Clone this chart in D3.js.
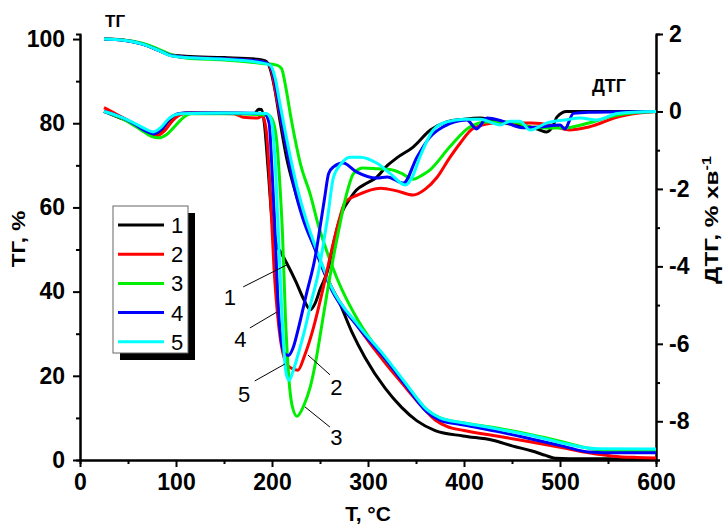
<!DOCTYPE html>
<html>
<head>
<meta charset="utf-8">
<script src="https://cdn.jsdelivr.net/npm/d3@7"></script>
<style>
  body { margin: 0; background: #fff; }
  svg text { font-family: Arial, "Liberation Sans", sans-serif; }
</style>
</head>
<body>
<div id="chart"></div>
<script>
// [T, °C ; ТГ, %]
const tg1 = [[25,100],[45,99.7],[65,98.8],[80,97.5],[95,96.2],[110,95.9],[150,95.6],[185,95.2],[193,94.8],[198,93],[203,88],[208,81],[215,72],[224,64],[233,57.5],[247,49],[262,41],[270,37.5],[283,30.5],[297,24.3],[318,17],[335,12.5],[351,9.3],[370,7],[399,5.7],[430,4.7],[451,3.3],[470,2.2],[485,1.1],[495,0.4],[510,0.3],[600,0.3]];
const tg2 = [[25,100],[45,99.8],[65,98.9],[80,97.5],[95,96.1],[110,95.7],[150,95.3],[185,94.8],[195,94.3],[200,92],[204,87],[210,80],[218,71],[226,64],[234,57.5],[247,49],[262,41],[290,31.5],[318,23],[340,17],[355,13],[370,9.5],[382,8],[400,7],[434,5.7],[470,4.3],[503,2.9],[530,1.7],[555,0.9],[580,0.6],[600,0.5]];
const tg3 = [[25,100],[45,99.8],[65,99],[80,97.8],[95,96.3],[110,95.5],[150,95],[190,94.2],[205,93.8],[210,93],[214,89],[220,81],[230,70],[240,63],[248,56],[258,49],[268,43],[290,33],[318,24],[340,17.8],[361,12],[375,10],[400,8.8],[434,7.6],[470,6],[503,4.3],[530,2.8],[550,2.3],[600,2.2]];
const tg4 = [[25,100],[45,99.7],[65,98.8],[80,97.5],[95,96.1],[110,95.7],[150,95.3],[185,94.8],[197,94],[202,91],[206,86],[210,80.5],[217,72],[224,64],[232,57.5],[245,50],[262,40.5],[290,31.5],[318,24],[340,17.5],[361,11.5],[375,9.5],[400,8.3],[434,6.8],[470,5],[503,3.3],[530,1.9],[560,1.7],[600,1.7]];
const tg5 = [[25,100],[45,99.7],[65,98.8],[80,97.5],[95,96],[110,95.6],[150,95.2],[185,94.5],[198,93.8],[203,91],[208,85],[213,79],[220,71],[227,64],[235,57.5],[248,49],[262,41],[290,32],[318,24.5],[340,18],[361,12],[375,10],[400,8.8],[434,7.4],[470,5.8],[503,4],[538,2.7],[600,2.6]];

// [T, °C ; ДТГ, % хв-1]
const dtg1 = [[25,0],[40,-0.15],[55,-0.3],[68,-0.5],[77,-0.58],[85,-0.48],[92,-0.25],[100,-0.1],[110,-0.04],[150,-0.04],[182,-0.05],[186,0.06],[189,0.05],[192,-0.3],[196,-1.5],[200,-2.8],[205,-3.45],[209,-3.63],[215,-3.9],[225,-4.4],[233,-4.85],[240,-5.12],[245,-4.95],[250,-4.6],[258,-4.1],[265,-3.3],[273,-2.6],[280,-2.3],[288,-2.03],[299,-1.85],[309,-1.7],[320,-1.4],[330,-1.2],[347,-0.92],[365,-0.48],[382,-0.27],[400,-0.2],[417,-0.17],[441,-0.3],[469,-0.4],[479,-0.48],[486,-0.53],[492,-0.4],[497,-0.14],[507,0],[600,0]];
const dtg2 = [[25,0.1],[40,-0.1],[55,-0.3],[70,-0.55],[80,-0.63],[88,-0.5],[96,-0.25],[105,-0.08],[115,-0.04],[160,-0.06],[170,-0.15],[185,-0.17],[190,-0.12],[194,-0.5],[198,-2],[202,-4],[206,-5.3],[211,-6.2],[218,-6.6],[227,-6.68],[234,-6.3],[243,-5.6],[252,-4.7],[262,-3.6],[270,-2.8],[276,-2.35],[290,-2.15],[313,-1.98],[330,-2.05],[347,-2.16],[360,-2],[372,-1.7],[385,-1.2],[396,-0.82],[410,-0.43],[434,-0.3],[470,-0.3],[490,-0.35],[510,-0.48],[530,-0.4],[562,-0.13],[590,-0.02],[600,0]];
const dtg3 = [[25,0],[45,-0.2],[62,-0.45],[75,-0.65],[82,-0.68],[90,-0.6],[100,-0.35],[108,-0.15],[116,-0.06],[160,-0.06],[196,-0.1],[201,-0.25],[205,-0.8],[208,-1.8],[211,-3.2],[214,-5.3],[217,-6.7],[221,-7.6],[226,-7.87],[233,-7.6],[240,-7.1],[246,-6.4],[252,-5.5],[258,-4.6],[264,-3.76],[270,-3],[277,-2.2],[285,-1.6],[295,-1.46],[310,-1.48],[323,-1.5],[335,-1.6],[347,-1.75],[356,-1.65],[365,-1.5],[385,-0.92],[406,-0.4],[424,-0.27],[451,-0.27],[469,-0.4],[503,-0.43],[530,-0.3],[555,-0.12],[580,-0.03],[600,0]];
const dtg4 = [[25,0],[40,-0.12],[55,-0.3],[68,-0.5],[77,-0.58],[85,-0.45],[93,-0.2],[102,-0.06],[110,-0.04],[150,-0.04],[192,-0.05],[197,-0.3],[200,-1.5],[203,-3],[206,-4.8],[209,-5.8],[213,-6.25],[217,-6.3],[222,-6.1],[227,-5.65],[236,-4.7],[245,-3.76],[250,-3],[255,-2.2],[259,-1.6],[264,-1.43],[274,-1.33],[288,-1.56],[309,-1.72],[320,-1.69],[337,-1.85],[351,-1.18],[365,-0.65],[378,-0.4],[403,-0.22],[413,-0.45],[424,-0.17],[440,-0.25],[461,-0.42],[480,-0.4],[500,-0.35],[505,-0.45],[514,-0.05],[530,-0.02],[600,0]];
const dtg5 = [[25,0],[40,-0.12],[55,-0.28],[68,-0.45],[76,-0.53],[84,-0.42],[92,-0.2],[104,-0.06],[150,-0.04],[194,-0.05],[199,-0.2],[203,-1.2],[206,-2.8],[209,-4.5],[212,-6],[215,-6.8],[218,-6.94],[222,-6.7],[228,-6.2],[234,-5.65],[241,-4.9],[248,-4.2],[253,-3.5],[258,-2.73],[264,-1.7],[272,-1.35],[281,-1.18],[292,-1.18],[309,-1.33],[323,-1.6],[339,-1.9],[346,-1.7],[354,-1.18],[368,-0.48],[382,-0.27],[400,-0.2],[417,-0.2],[438,-0.35],[448,-0.25],[458,-0.25],[469,-0.48],[486,-0.3],[505,-0.22],[521,-0.17],[538,-0.22],[560,-0.05],[600,0]];

const names = ["1", "2", "3", "4", "5"];
const colors = ["#000000", "#ff0000", "#00ee00", "#0000ff", "#00ffff"];
const tgSeries = [tg1, tg2, tg3, tg4, tg5];
const dtgSeries = [dtg1, dtg2, dtg3, dtg4, dtg5];

const xTicks = [0, 100, 200, 300, 400, 500, 600];
const xMinor = [50, 150, 250, 350, 450, 550];
const tgTicks = [0, 20, 40, 60, 80, 100];
const tgMinor = [10, 30, 50, 70, 90];
const dtgTicks = [-8, -6, -4, -2, 0, 2];
const dtgMinor = [-9, -7, -5, -3, -1, 1];

// curve labels: text position and leader line, in [T, ДТГ] units
const callouts = [
  {name: "1", at: [156, -5.0], from: [170, -4.53], to: [215.6, -3.96]},
  {name: "4", at: [167, -6.08], from: [177, -5.59], to: [205, -5.18]},
  {name: "5", at: [171, -7.5], from: [182, -6.96], to: [213.5, -6.52]},
  {name: "2", at: [267, -7.32], from: [237.5, -6.29], to: [260.4, -6.8]},
  {name: "3", at: [267, -8.61], from: [234.4, -7.63], to: [260.4, -8.15]}
];

const margin = {top: 34, right: 71, bottom: 64, left: 80},
    width = 727 - margin.left - margin.right,
    height = 524 - margin.top - margin.bottom;

const root = d3.select("#chart")
  .append("svg")
    .attr("width", 727)
    .attr("height", 524);

const svg = root.append("g")
    .attr("transform", `translate(${margin.left},${margin.top})`);

const x = d3.scaleLinear().domain([0, 600]).range([0, width]);
const yTg = d3.scaleLinear().domain([0, 101.2]).range([height, 0]);
const yDtg = d3.scaleLinear().domain([-9, 2]).range([height, 0]);

function styleAxis(g) {
  g.attr("font-family", "Arial, 'Liberation Sans', sans-serif")
   .attr("font-size", 23)
   .attr("font-weight", "bold");
  g.selectAll(".domain, .tick line").attr("stroke", "#000").attr("stroke-width", 2);
}

// bottom
svg.append("g")
  .attr("transform", `translate(0,${height})`)
  .call(d3.axisBottom(x).tickValues(xMinor).tickSize(4).tickFormat(""))
  .call(styleAxis);
svg.append("g")
  .attr("transform", `translate(0,${height})`)
  .call(d3.axisBottom(x).tickValues(xTicks).tickSize(7).tickSizeOuter(0).tickPadding(7))
  .call(styleAxis);

// left
svg.append("g")
  .call(d3.axisLeft(yTg).tickValues(tgMinor).tickSize(4).tickFormat(""))
  .call(styleAxis);
svg.append("g")
  .call(d3.axisLeft(yTg).tickValues(tgTicks).tickSize(7).tickSizeOuter(0).tickPadding(8))
  .call(styleAxis);

// right
svg.append("g")
  .attr("transform", `translate(${width},0)`)
  .call(d3.axisRight(yDtg).tickValues(dtgMinor).tickSize(4).tickFormat(""))
  .call(styleAxis);
svg.append("g")
  .attr("transform", `translate(${width},0)`)
  .call(d3.axisRight(yDtg).tickValues(dtgTicks).tickSize(7).tickSizeOuter(0).tickPadding(6)
    .tickFormat(d => String(d)))
  .call(styleAxis);

// curves
const lineTg = d3.line().x(d => x(d[0])).y(d => yTg(d[1])).curve(d3.curveMonotoneX);
const lineDtg = d3.line().x(d => x(d[0])).y(d => yDtg(d[1])).curve(d3.curveMonotoneX);

tgSeries.forEach((s, i) => {
  svg.append("path").datum(s)
    .attr("fill", "none").attr("stroke", colors[i]).attr("stroke-width", 3)
    .attr("stroke-linejoin", "round")
    .attr("d", lineTg);
});
dtgSeries.forEach((s, i) => {
  svg.append("path").datum(s)
    .attr("fill", "none").attr("stroke", colors[i]).attr("stroke-width", 3)
    .attr("stroke-linejoin", "round")
    .attr("d", lineDtg);
});

// callouts
callouts.forEach(c => {
  svg.append("line")
    .attr("x1", x(c.from[0])).attr("y1", yDtg(c.from[1]))
    .attr("x2", x(c.to[0])).attr("y2", yDtg(c.to[1]))
    .attr("stroke", "#000").attr("stroke-width", 1);
  svg.append("text")
    .attr("x", x(c.at[0])).attr("y", yDtg(c.at[1]))
    .attr("text-anchor", "middle")
    .style("font-size", "22px")
    .text(c.name);
});

// curve family labels
svg.append("text")
  .attr("x", 25).attr("y", -7)
  .style("font-size", "17px").style("font-weight", "bold")
  .text("ТГ");
svg.append("text")
  .attr("x", 512).attr("y", 58)
  .style("font-size", "18px").style("font-weight", "bold")
  .text("ДТГ");

// axis titles
root.append("text")
  .attr("x", 368).attr("y", 521)
  .attr("text-anchor", "middle")
  .style("font-size", "21px").style("font-weight", "bold")
  .text("T, °C");

root.append("text")
  .attr("transform", "translate(25,239) rotate(-90) scale(1.25,1)")
  .attr("text-anchor", "middle")
  .style("font-size", "18px").style("font-weight", "bold")
  .text("ТГ, %");

const rt = root.append("text")
  .attr("transform", "translate(718,220) rotate(-90) scale(1.35,1)")
  .attr("text-anchor", "middle")
  .style("font-size", "18px").style("font-weight", "bold");
rt.append("tspan").text("ДТГ, % хв");
rt.append("tspan").attr("dy", -7).style("font-size", "12px").text("-1");

// legend
const legend = root.append("g").attr("transform", "translate(113,206)");
legend.append("rect")
  .attr("x", 7).attr("y", 7).attr("width", 75).attr("height", 147)
  .attr("fill", "#000");
legend.append("rect")
  .attr("x", 0).attr("y", 0).attr("width", 75).attr("height", 147)
  .attr("fill", "#fff").attr("stroke", "#666").attr("stroke-width", 1);
names.forEach((n, i) => {
  const yy = 19 + i * 29.2;
  legend.append("line")
    .attr("x1", 5).attr("x2", 51).attr("y1", yy).attr("y2", yy)
    .attr("stroke", colors[i]).attr("stroke-width", 3);
  legend.append("text")
    .attr("x", 58).attr("y", yy + 8)
    .style("font-size", "22px")
    .text(n);
});
</script>
</body>
</html>
